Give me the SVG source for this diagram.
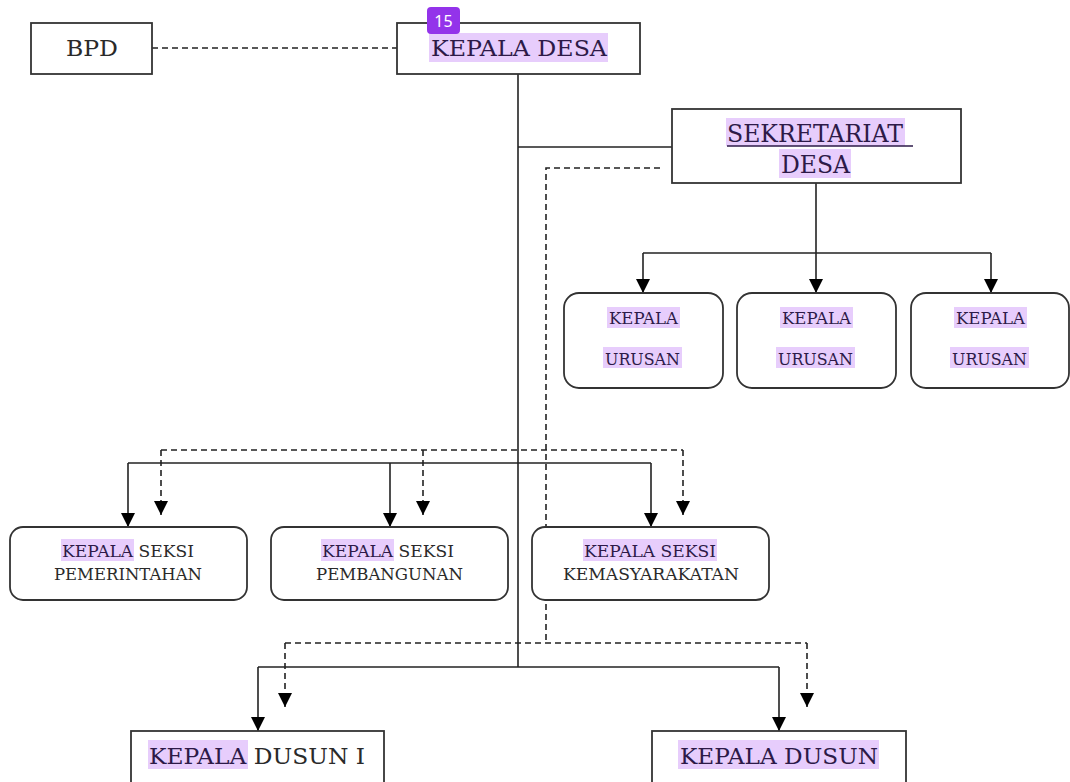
<svg xmlns="http://www.w3.org/2000/svg" width="1070" height="782" viewBox="0 0 1070 782">
<style>
.box{fill:#fff;stroke:#333;stroke-width:1.8}
.t{font-family:"DejaVu Serif","Liberation Serif",serif;fill:#2a2a2a}
.hl{fill:#e7cdfc}
.hlt{fill:#2d1a48}
.ln{fill:none;stroke:#222;stroke-width:1.6}
.ds{fill:none;stroke:#222;stroke-width:1.6;stroke-dasharray:6 4}
</style>
<defs>
<marker id="ah" viewBox="0 0 14 14" markerWidth="14" markerHeight="14" refX="14" refY="7" orient="auto" markerUnits="userSpaceOnUse">
<path d="M0,0 L14,7 L0,14 z" fill="#000"/>
</marker>
</defs>
<rect width="1070" height="782" fill="#fff"/>

<g id="connectors">
<path class="ds" d="M152,48 H397"/>
<path class="ln" d="M518,74 V667"/>
<path class="ln" d="M518,147 H672"/>
<path class="ds" d="M660,168 H546 V643"/>
<path class="ln" d="M816,183 V253"/>
<path class="ln" d="M643,253 H991"/>
<path class="ln" d="M643,253 V293" marker-end="url(#ah)"/>
<path class="ln" d="M816,253 V293" marker-end="url(#ah)"/>
<path class="ln" d="M991,253 V293" marker-end="url(#ah)"/>
<path class="ds" d="M161,450 H683"/>
<path class="ds" d="M161,450 V515" marker-end="url(#ah)"/>
<path class="ds" d="M423,450 V515" marker-end="url(#ah)"/>
<path class="ds" d="M683,450 V515" marker-end="url(#ah)"/>
<path class="ln" d="M128,463 H651"/>
<path class="ln" d="M128,463 V527" marker-end="url(#ah)"/>
<path class="ln" d="M390,463 V527" marker-end="url(#ah)"/>
<path class="ln" d="M651,463 V527" marker-end="url(#ah)"/>
<path class="ds" d="M285,643 H807"/>
<path class="ds" d="M285,643 V707" marker-end="url(#ah)"/>
<path class="ds" d="M807,643 V707" marker-end="url(#ah)"/>
<path class="ln" d="M258,667 H779"/>
<path class="ln" d="M258,667 V731" marker-end="url(#ah)"/>
<path class="ln" d="M779,667 V731" marker-end="url(#ah)"/>
</g>

<g id="bpd">
<rect class="box" x="31" y="23" width="121" height="51"/>
<text class="t" x="66" y="56" font-size="23" textLength="52" lengthAdjust="spacingAndGlyphs">BPD</text>
</g>

<g id="kepala-desa">
<rect class="box" x="397" y="23" width="243" height="51"/>
<rect class="hl" x="429" y="33" width="179" height="29"/>
<text class="t hlt" x="431" y="56" font-size="23" textLength="176" lengthAdjust="spacingAndGlyphs">KEPALA DESA</text>
</g>

<g id="badge">
<rect x="427" y="7" width="33" height="27" rx="4" fill="#9333ea"/>
<text x="443.5" y="27" font-family="'Noto Sans','Open Sans',sans-serif" font-size="16" fill="#fff" text-anchor="middle">15</text>
</g>

<g id="sekretariat">
<rect class="box" x="672" y="109" width="289" height="74"/>
<rect class="hl" x="726" y="118" width="179" height="28"/>
<rect class="hl" x="779" y="149" width="72" height="29"/>
<text class="t hlt" x="727" y="142" font-size="24" textLength="176" lengthAdjust="spacingAndGlyphs">SEKRETARIAT</text>
<line x1="727" y1="146" x2="913" y2="146" stroke="#2d1a48" stroke-width="1.4"/>
<text class="t hlt" x="781" y="173" font-size="24" textLength="69" lengthAdjust="spacingAndGlyphs">DESA</text>
</g>

<g id="urusan-1">
<rect class="box" x="564" y="293" width="159" height="95" rx="15"/>
<rect class="hl" x="607" y="307" width="73" height="21"/>
<rect class="hl" x="603" y="347" width="79" height="21"/>
<text class="t hlt" x="609" y="324" font-size="17" textLength="69" lengthAdjust="spacingAndGlyphs">KEPALA</text>
<text class="t hlt" x="605" y="365" font-size="17" textLength="75" lengthAdjust="spacingAndGlyphs">URUSAN</text>
</g>
<g id="urusan-2">
<rect class="box" x="737" y="293" width="159" height="95" rx="15"/>
<rect class="hl" x="780" y="307" width="73" height="21"/>
<rect class="hl" x="776" y="347" width="79" height="21"/>
<text class="t hlt" x="782" y="324" font-size="17" textLength="69" lengthAdjust="spacingAndGlyphs">KEPALA</text>
<text class="t hlt" x="778" y="365" font-size="17" textLength="75" lengthAdjust="spacingAndGlyphs">URUSAN</text>
</g>
<g id="urusan-3">
<rect class="box" x="911" y="293" width="158" height="95" rx="15"/>
<rect class="hl" x="954" y="307" width="73" height="21"/>
<rect class="hl" x="950" y="347" width="79" height="21"/>
<text class="t hlt" x="956" y="324" font-size="17" textLength="69" lengthAdjust="spacingAndGlyphs">KEPALA</text>
<text class="t hlt" x="952" y="365" font-size="17" textLength="75" lengthAdjust="spacingAndGlyphs">URUSAN</text>
</g>

<g id="seksi-pemerintahan">
<rect class="box" x="10" y="527" width="237" height="73" rx="13"/>
<rect class="hl" x="61" y="539" width="73" height="22"/>
<text class="t" x="62" y="557" font-size="17" textLength="132" lengthAdjust="spacingAndGlyphs"><tspan class="hlt">KEPALA</tspan> SEKSI</text>
<text class="t" x="54" y="580" font-size="17" textLength="148" lengthAdjust="spacingAndGlyphs">PEMERINTAHAN</text>
</g>
<g id="seksi-pembangunan">
<rect class="box" x="271" y="527" width="237" height="73" rx="13"/>
<rect class="hl" x="321" y="539" width="73" height="22"/>
<text class="t" x="322" y="557" font-size="17" textLength="132" lengthAdjust="spacingAndGlyphs"><tspan class="hlt">KEPALA</tspan> SEKSI</text>
<text class="t" x="316" y="580" font-size="17" textLength="147" lengthAdjust="spacingAndGlyphs">PEMBANGUNAN</text>
</g>
<g id="seksi-kemasyarakatan">
<rect class="box" x="532" y="527" width="237" height="73" rx="13"/>
<rect class="hl" x="583" y="539" width="134" height="22"/>
<text class="t hlt" x="584" y="557" font-size="17" textLength="132" lengthAdjust="spacingAndGlyphs">KEPALA SEKSI</text>
<text class="t" x="563" y="580" font-size="17" textLength="176" lengthAdjust="spacingAndGlyphs">KEMASYARAKATAN</text>
</g>

<g id="dusun-1">
<rect class="box" x="131" y="731" width="253" height="56"/>
<rect class="hl" x="148" y="740" width="100" height="29"/>
<text class="t" x="149" y="764" font-size="23" textLength="216" lengthAdjust="spacingAndGlyphs"><tspan class="hlt">KEPALA</tspan> DUSUN I</text>
</g>
<g id="dusun-2">
<rect class="box" x="652" y="731" width="254" height="56"/>
<rect class="hl" x="678" y="740" width="201" height="29"/>
<text class="t hlt" x="680" y="764" font-size="23" textLength="198" lengthAdjust="spacingAndGlyphs">KEPALA DUSUN</text>
</g>
</svg>
